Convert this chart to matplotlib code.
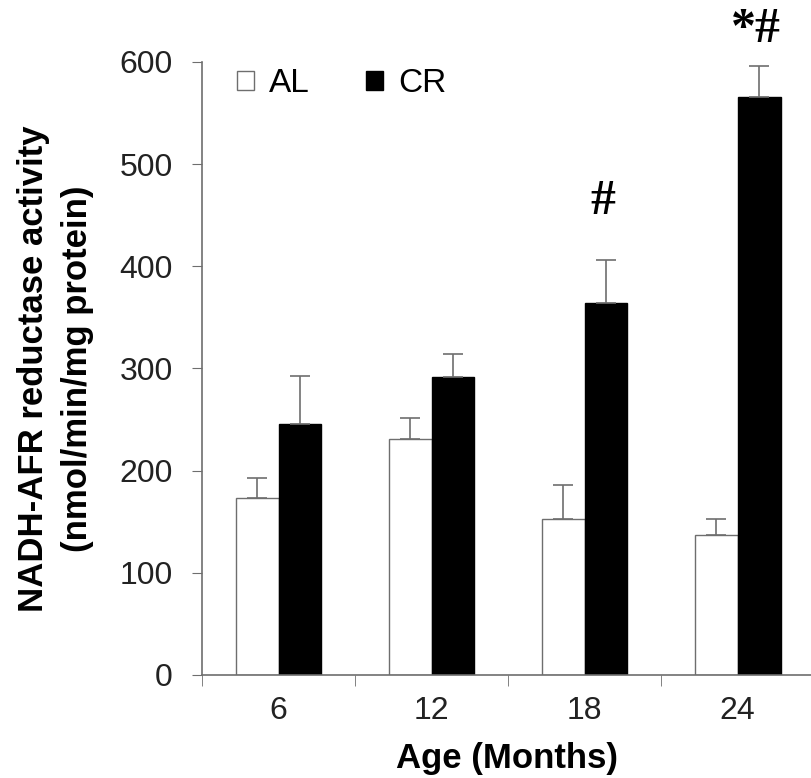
import matplotlib
matplotlib.use('Agg')
import matplotlib.pyplot as plt
import numpy as np

# values
ages = ['6', '12', '18', '24']
al_mean = [173, 231, 153, 137]
al_err = [20, 21, 33, 16]
cr_mean = [246, 292, 364, 566]
cr_err = [47, 22, 42, 30]
marks = ['', '', '#', '*#']
mark_y = [0, 0, 463, 631]

plt.rcParams['font.family'] = ['Liberation Sans', 'DejaVu Sans']

fig = plt.figure(figsize=(8.12, 7.78), dpi=100)
ax = fig.add_axes([0.2488, 0.1324, 0.752, 0.788])

x = np.arange(len(ages))
w = 0.28
gray = '#6e6e6e'
ekw = dict(ecolor=gray, elinewidth=1.2, capsize=7.5, capthick=1.2)

ax.bar(x - w / 2, al_mean, w, color='white', edgecolor=gray, linewidth=1, label='AL',
       yerr=[[0] * 4, al_err], error_kw=ekw)
ax.bar(x + w / 2, cr_mean, w, color='black', edgecolor='black', linewidth=1, label='CR',
       yerr=[[0] * 4, cr_err], error_kw=ekw)

# significance marks over the CR bars
for i, m in enumerate(marks):
    if m:
        ax.text(x[i] + w / 2 - 0.02, mark_y[i], m, ha='center', va='center', fontsize=36,
                fontweight='bold', family='Liberation Serif', clip_on=False)

ax.set_xlim(-0.5, 3.49)
ax.set_ylim(0, 600)
ax.set_yticks(range(0, 601, 100))
ax.set_xticks(x)
ax.set_xticklabels(ages)
ax.set_xticks(np.arange(-0.5, 3.5, 1), minor=True)
ax.tick_params(axis='x', which='major', length=0, pad=15, labelsize=23)
ax.tick_params(axis='x', which='minor', length=8, color=gray, direction='out')
ax.tick_params(axis='y', length=7, color=gray, labelsize=23, pad=14, labelcolor='#222222')
ax.tick_params(axis='x', labelcolor='#222222')

for s in ['top', 'right']:
    ax.spines[s].set_visible(False)
for s in ['left', 'bottom']:
    ax.spines[s].set_color(gray)
    ax.spines[s].set_linewidth(1.2)

ax.set_xlabel('Age (Months)', fontsize=25, fontweight='bold', labelpad=12)
ax.set_ylabel('NADH-AFR reductase activity\n(nmol/min/mg protein)', fontsize=25,
              fontweight='bold', labelpad=18, linespacing=1.45)

ax.legend(loc='center left', ncol=2, frameon=False, fontsize=24, handlelength=0.5,
          handleheight=0.5, handletextpad=0.45, columnspacing=1.7,
          borderpad=0, borderaxespad=0, bbox_to_anchor=(35 / 610, 591 / 613))

plt.savefig('out.png', dpi=100)
